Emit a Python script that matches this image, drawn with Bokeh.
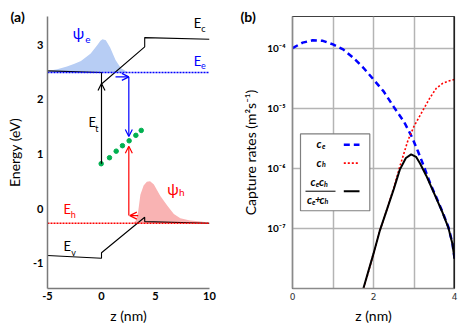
from bokeh.plotting import figure
from bokeh.layouts import row
from bokeh.models import Label, Arrow, OpenHead, FixedTicker, Range1d, Span
from bokeh.embed import file_html
from bokeh.resources import INLINE

FONT = "Lato"

# ---------------- panel (a) data ----------------
ec_z = [-5, 0, 0, 4, 4, 10]
ec_E = [2.52, 2.49, 2.28, 2.96, 3.13, 3.10]
ev_z = [-5, 0, 0, 4, 4, 10]
ev_E = [-0.86, -0.91, -0.81, -0.16, -0.24, -0.27]
Ee_level = 2.49
Eh_level = -0.27
level_z = [-5, 10]

psi_e_z = [-5.0, -4.1, -3.2, -2.5, -1.9, -1.0, -0.4, -0.1, 0.1, 0.4, 0.8, 1.3, 1.8, 2.4]
psi_e_E = [2.52, 2.55, 2.60, 2.65, 2.70, 2.84, 2.99, 3.07, 3.10, 3.08, 2.95, 2.72, 2.57, 2.50]
psi_h_z = [2.9, 3.2, 3.4, 3.6, 3.9, 4.2, 4.5, 4.85, 5.45, 6.1, 6.7, 7.3, 8.2, 9.2, 10.0]
psi_h_E = [-0.27, -0.22, -0.05, 0.25, 0.42, 0.49, 0.50, 0.44, 0.23, 0.05, -0.10, -0.18, -0.22, -0.24, -0.26]

trap_z = [-0.03, 0.74, 1.36, 1.94, 2.56, 3.18, 3.68]
trap_E = [0.82, 0.93, 1.05, 1.15, 1.24, 1.34, 1.43]

# arrows (z_start, E_start, z_end, E_end)
arrow_black = [(0.0, 0.82, 0.0, 2.29)]
arrow_blue = [(1.3, 2.41, 2.53, 2.41), (2.53, 2.41, 2.53, 1.32)]
arrow_red = [(2.53, -0.13, 2.53, 1.14), (3.4, -0.13, 2.62, -0.13)]

a_xticks = [-5, 0, 5, 10]
a_xlabels = ["-5", "0", "5", "10"]
a_yticks = [-1, 0, 1, 2, 3]
a_ylabels = ["-1", "0", "1", "2", "3"]

# ---------------- panel (b) data ----------------
ce_z = [0, 0.25, 0.5, 0.75, 1.0, 1.25, 1.5, 1.75, 2.0, 2.25, 2.5, 2.75, 2.95, 3.1, 3.25,
        3.4, 3.55, 3.7, 3.85, 3.95, 4.0]
ce_val = [1.0e-4, 1.23e-4, 1.35e-4, 1.32e-4, 1.15e-4, 9.5e-5, 6.9e-5, 4.7e-5, 3.0e-5, 1.9e-5,
          1.05e-5, 6.0e-6, 3.3e-6, 1.9e-6, 1.05e-6, 5.6e-7, 3.3e-7, 1.9e-7, 1.05e-7, 5.6e-8, 3.2e-8]
ch_z = [1.70, 1.85, 2.0, 2.15, 2.3, 2.5, 2.65, 2.85, 3.0, 3.25, 3.4, 3.55, 3.7, 3.85, 4.0]
ch_val = [7.6e-9, 1.66e-8, 3.8e-8, 8.9e-8, 1.78e-7, 4.7e-7, 1.07e-6, 2.9e-6, 5.0e-6, 1.0e-5,
          1.51e-5, 2.14e-5, 2.57e-5, 2.82e-5, 3.0e-5]
cc_z = [1.74, 2.0, 2.15, 2.3, 2.5, 2.65, 2.8, 2.93, 3.05, 3.15, 3.3, 3.5, 3.7, 3.85, 3.95, 4.0]
cc_val = [9.5e-9, 3.8e-8, 8.9e-8, 1.78e-7, 4.5e-7, 9.5e-7, 1.48e-6, 1.70e-6, 1.55e-6, 1.20e-6,
          7.6e-7, 3.8e-7, 1.86e-7, 1.02e-7, 5.5e-8, 3.1e-8]

b_xticks = [0, 2, 4]
b_xgrid = [1, 2, 3]
b_yticks = [1e-7, 1e-6, 1e-5, 1e-4]
b_ylabels = ["10\u207b\u2077", "10\u207b\u2076", "10\u207b\u2075", "10\u207b\u2074"]

BLUE = "#0000ff"
RED = "#ff0000"
GREEN = "#00b050"

# ---------------- layout helpers (page pixel -> data) ----------------
A_ERANGE = (-1.465, 3.516)


def a_pt(px, py):
    z = -5 + (px - 47) * 15.0 / 162.0
    E = A_ERANGE[1] - (py - 16) * (A_ERANGE[1] - A_ERANGE[0]) / 272.0
    return z, E


B_LOG_TOP = -3.475


def b_pt(px, py):
    z = (px - 292) * 4.0 / 162.0
    lg = B_LOG_TOP - (py - 15) * (8 + B_LOG_TOP) / 274.0
    return z, 10 ** lg


def add_text(p, conv, px, py, text, size, color="black", style="normal", font=FONT):
    x, y = conv(px, py)
    p.add_layout(Label(x=x, y=y, text=text, text_font=font, text_font_size=size,
                       text_color=color, text_font_style=style,
                       text_align="center", text_baseline="middle"))


def panel_title(p, text, offset):
    p.title.text = text
    p.title.align = "left"
    p.title.offset = offset
    p.title.standoff = -16
    p.title.text_font = FONT
    p.title.text_font_size = "14px"
    p.title.text_font_style = "bold"
    p.title.text_color = "black"


# ================= panel (a) =================
pa = figure(width=230, height=336, output_backend="svg", toolbar_location=None,
            x_range=Range1d(-5, 10), y_range=Range1d(*A_ERANGE),
            min_border_left=47, min_border_right=21, min_border_top=16, min_border_bottom=48)
pa.outline_line_color = None
pa.grid.visible = False
pa.background_fill_color = "white"
pa.border_fill_color = "white"
panel_title(pa, "(a)", -37)

pa.varea(x=psi_e_z, y1=[Ee_level] * len(psi_e_z), y2=psi_e_E, fill_color="#b7cdf4")
pa.varea(x=psi_h_z, y1=[Eh_level] * len(psi_h_z), y2=psi_h_E, fill_color="#f9b3b3")
pa.line(ec_z, ec_E, line_color="black", line_width=1.1)
pa.line(ev_z, ev_E, line_color="black", line_width=1.1)
pa.line(level_z, [Ee_level] * 2, line_color=BLUE, line_width=1.6, line_dash="2 1")
pa.line(level_z, [Eh_level] * 2, line_color=RED, line_width=1.6, line_dash="2 1")

for lst, col in ((arrow_black, "black"), (arrow_blue, BLUE), (arrow_red, RED)):
    for (x0, y0, x1, y1) in lst:
        pa.add_layout(Arrow(end=OpenHead(size=7, line_color=col, line_width=1.2),
                            x_start=x0, y_start=y0, x_end=x1, y_end=y1,
                            line_color=col, line_width=1.2))

pa.scatter(trap_z, trap_E, size=4.5, fill_color=GREEN, line_color=GREEN)

pa.xaxis.ticker = FixedTicker(ticks=a_xticks)
pa.yaxis.ticker = FixedTicker(ticks=a_yticks)
pa.xaxis.major_label_overrides = dict(zip(a_xticks, a_xlabels))
pa.yaxis.major_label_overrides = dict(zip(a_yticks, a_ylabels))
pa.xaxis.axis_label = "z (nm)"
pa.yaxis.axis_label = "Energy (eV)"
for ax in (pa.xaxis, pa.yaxis):
    ax.major_tick_out = 0
    ax.major_tick_in = 0
    ax.minor_tick_out = 0
    ax.minor_tick_in = 0
    ax.major_tick_line_color = None
    ax.minor_tick_line_color = None
    ax.axis_line_color = "#7a7a7a"
    ax.axis_line_width = 1.5
    ax.major_label_text_font = FONT
    ax.major_label_text_font_size = "11px"
    ax.major_label_text_font_style = "bold"
    ax.major_label_text_color = "black"
    ax.axis_label_text_font = FONT
    ax.axis_label_text_font_size = "14px"
    ax.axis_label_text_font_style = "normal"
    ax.axis_label_text_color = "black"
pa.yaxis.major_label_standoff = 4
pa.yaxis.axis_label_standoff = 7
pa.xaxis.major_label_standoff = 3
pa.xaxis.axis_label_standoff = 4

# labels panel (a)
add_text(pa, a_pt, 197, 22.8, "E", "13px")
add_text(pa, a_pt, 202.8, 28.3, "c", "9px")
add_text(pa, a_pt, 78, 32.3, "\u03c8", "15px", color=BLUE)
add_text(pa, a_pt, 87.3, 39, "e", "10px", color=BLUE)
add_text(pa, a_pt, 197, 60, "E", "13px", color=BLUE)
add_text(pa, a_pt, 203, 64.5, "e", "9px", color=BLUE)
add_text(pa, a_pt, 91.7, 121.7, "E", "13px")
add_text(pa, a_pt, 96.4, 128.3, "t", "9px")
add_text(pa, a_pt, 66.7, 208.7, "E", "13px", color=RED)
add_text(pa, a_pt, 72.8, 214.2, "h", "9px", color=RED)
add_text(pa, a_pt, 172.5, 188.3, "\u03c8", "15px", color=RED)
add_text(pa, a_pt, 181.3, 191.7, "h", "10px", color=RED)
add_text(pa, a_pt, 66.7, 245, "E", "13px")
add_text(pa, a_pt, 73, 251.7, "v", "9px")

# ================= panel (b) =================
pb = figure(width=233, height=336, output_backend="svg", toolbar_location=None,
            x_range=Range1d(0, 4), y_range=Range1d(1e-8, 10 ** B_LOG_TOP), y_axis_type="log",
            min_border_left=62, min_border_right=9, min_border_top=15, min_border_bottom=47)
pb.background_fill_color = "white"
pb.border_fill_color = "white"
pb.outline_line_color = "#404040"
pb.outline_line_width = 1.2
panel_title(pb, "(b)", -52)
pb.xgrid[0].ticker = FixedTicker(ticks=b_xgrid)
pb.ygrid[0].ticker = FixedTicker(ticks=b_yticks)
pb.grid.grid_line_color = "#b4b4b4"
pb.grid.grid_line_width = 1.5

pb.line(ce_z, ce_val, line_color=BLUE, line_width=2.5, line_dash="6 4")
pb.line(ch_z, ch_val, line_color=RED, line_width=1.6, line_dash="2 2")
pb.line(cc_z, cc_val, line_color="black", line_width=2)
pb.add_layout(Span(location=4, dimension="height", line_color="black", line_width=2))

pb.xaxis.ticker = FixedTicker(ticks=b_xticks)
pb.yaxis.ticker = FixedTicker(ticks=b_yticks)
pb.yaxis.major_label_overrides = {t: s for t, s in zip(b_yticks, b_ylabels)}
pb.xaxis.axis_label = "z (nm)"
pb.yaxis.axis_label = "Capture rates (m\u00b2s\u207b\u00b9)"
for ax in (pb.xaxis, pb.yaxis):
    ax.major_tick_out = 0
    ax.major_tick_in = 0
    ax.minor_tick_out = 0
    ax.minor_tick_in = 0
    ax.major_tick_line_color = None
    ax.minor_tick_line_color = None
    ax.axis_line_color = "#8a8a8a"
    ax.axis_line_width = 1.5
    ax.axis_label_text_font = FONT
    ax.axis_label_text_font_size = "14px"
    ax.axis_label_text_font_style = "normal"
    ax.axis_label_text_color = "black"
pb.yaxis.major_label_text_font = FONT
pb.yaxis.major_label_text_font_size = "10px"
pb.yaxis.major_label_text_font_style = "bold"
pb.yaxis.major_label_text_color = "black"
pb.yaxis.major_label_standoff = 7
pb.yaxis.axis_label_standoff = 5
pb.xaxis.major_label_text_font = "DejaVu Sans"
pb.xaxis.major_label_text_font_size = "9px"
pb.xaxis.major_label_text_color = "#333333"
pb.xaxis.major_label_standoff = 4
pb.xaxis.axis_label_standoff = 4

# manual legend (page pixel layout)
lx0, ly0 = b_pt(300, 133.3)
lx1, ly1 = b_pt(369.3, 210.7)
pb.quad(left=[lx0], right=[lx1], top=[ly0], bottom=[ly1], fill_color="white",
        line_color="#7f7f7f", line_width=1.2)


def leg_seg(px0, px1, py, **kw):
    x0, y = b_pt(px0, py)
    x1, _ = b_pt(px1, py)
    pb.line([x0, x1], [y, y], **kw)


leg_seg(343.3, 359, 144.3, line_color=BLUE, line_width=2.5, line_dash="6 4")
leg_seg(343.3, 359, 162.7, line_color=RED, line_width=1.6, line_dash="2 2")
leg_seg(343.3, 359, 191, line_color="black", line_width=2)
leg_seg(305, 335, 191, line_color="black", line_width=1)

BI = "bold italic"
add_text(pb, b_pt, 318.5, 143.3, "c", "11px", style=BI)
add_text(pb, b_pt, 323.2, 145.9, "e", "7px", style=BI)
add_text(pb, b_pt, 318.5, 161.7, "c", "11px", style=BI)
add_text(pb, b_pt, 323.4, 163.5, "h", "7px", style=BI)
add_text(pb, b_pt, 312.5, 181.7, "c", "11px", style=BI)
add_text(pb, b_pt, 316.9, 184.0, "e", "7px", style=BI)
add_text(pb, b_pt, 320.9, 181.7, "c", "11px", style=BI)
add_text(pb, b_pt, 325.4, 183.6, "h", "7px", style=BI)
add_text(pb, b_pt, 309.0, 199.5, "c", "11px", style=BI)
add_text(pb, b_pt, 313.3, 201.6, "e", "7px", style=BI)
add_text(pb, b_pt, 317.3, 199.5, "+", "10px", style=BI)
add_text(pb, b_pt, 321.5, 199.5, "c", "11px", style=BI)
add_text(pb, b_pt, 325.9, 201.3, "h", "7px", style=BI)

layout = row(pa, pb)
open("out.html", "w").write(file_html(layout, INLINE))
